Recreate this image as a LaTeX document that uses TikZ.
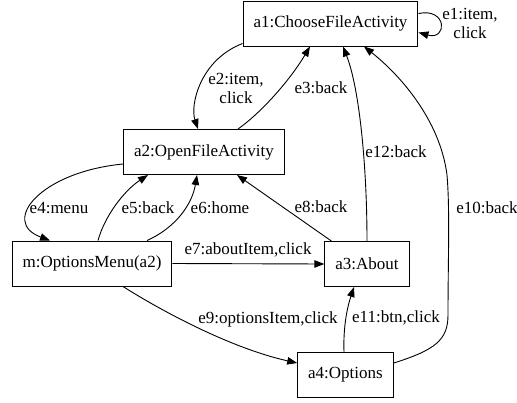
\documentclass[tikz,border=0pt]{standalone}
\usepackage{fontspec}
\setmainfont{Liberation Serif}
\usetikzlibrary{arrows.meta}

\tikzset{
  state/.style={draw, line width=1pt, minimum height=45pt, inner xsep=10.5pt,
                font=\fontsize{17}{19}\selectfont},
  edgelabel/.style={inner sep=0pt, align=center, font=\fontsize{17}{19}\selectfont},
  trans/.style={line width=0.9pt, -{Triangle[length=10pt,width=7.5pt]}},
}

\begin{document}
\begin{tikzpicture}[x=1pt, y=-1pt]
  \useasboundingbox (0,0) rectangle (517,402);

  % states
  \node[state] (a1) at (330.5,23.5) {a1:ChooseFileActivity};
  \node[state] (a2) at (204,152)   {a2:OpenFileActivity};
  \node[state] (m)  at (92,263.5)  {m:OptionsMenu(a2)};
  \node[state] (a3) at (367,264)   {a3:About};
  \node[state] (a4) at (345.5,375) {a4:Options};

  % e1: self loop on a1
  \draw[trans] ([yshift=10pt]a1.east) .. controls +(29,-6) and +(29,8) .. ([yshift=-9pt]a1.east);
  \node[edgelabel] (l1) at (470,23) {e1:item,\\click};

  % e2: a1 -> a2
  \draw[trans] ([yshift=3pt]a1.south west) .. controls (200,60) and (190,105) .. ([xshift=-6pt]a2.north);
  \node[edgelabel] (l2) at (236,88) {e2:item,\\click};

  % e3: a2 -> a1
  \draw[trans] ([xshift=34pt]a2.north) .. controls (262,112) and (290,80) .. ([xshift=-20.5pt]a1.south);
  \node[edgelabel] (l3) at (321,88) {e3:back};

  % e12: a3 -> a1
  \draw[trans] (a3.north) .. controls (367,170) and (360,90) .. ([xshift=12.5pt]a1.south);
  \node[edgelabel] (l12) at (396,152) {e12:back};

  % e10: a4 -> a1
  \draw[trans] ([yshift=12pt]a4.east) .. controls (435,350) and (448,340) .. (448,315)
       .. controls (448,260) and (450,210) .. (447,175)
       .. controls (440,120) and (400,75) .. ([xshift=33.5pt]a1.south);
  \node[edgelabel] (l10) at (487,208) {e10:back};

  % e4: a2 -> m
  \draw[trans] ([yshift=-12pt]a2.west) .. controls (40,172) and (0,222) .. ([xshift=-42pt]m.north);
  \node[edgelabel] (l4) at (59,208) {e4:menu};

  % e5: m -> a2
  \draw[trans] ([xshift=6pt]m.north) .. controls (105,215) and (125,190) .. ([xshift=-56pt]a2.south);
  \node[edgelabel] (l5) at (148,208) {e5:back};

  % e6: m -> a2
  \draw[trans] ([xshift=55pt]m.north) .. controls (175,228) and (192,205) .. ([xshift=-7pt]a2.south);
  \node[edgelabel] (l6) at (220,208) {e6:home};

  % e8: a3 -> a2
  \draw[trans] ([xshift=7pt]a3.north west) -- ([xshift=33pt]a2.south);
  \node[edgelabel] (l8) at (321,207) {e8:back};

  % e7: m -> a3
  \draw[trans] (m.east) -- (a3.west);
  \node[edgelabel] (l7) at (248,250) {e7:aboutItem,click};

  % e9: m -> a4
  \draw[trans] ([xshift=31pt]m.south) .. controls (160,310) and (230,348) .. ([yshift=12pt]a4.west);
  \node[edgelabel] (l9) at (268,319) {e9:optionsItem,click};

  % e11: a4 -> a3
  \draw[trans] ([xshift=-1.5pt]a4.north) .. controls (343,325) and (348,305) .. ([xshift=-13pt]a3.south);
  \node[edgelabel] (l11) at (396,318) {e11:btn,click};
\end{tikzpicture}
\end{document}
